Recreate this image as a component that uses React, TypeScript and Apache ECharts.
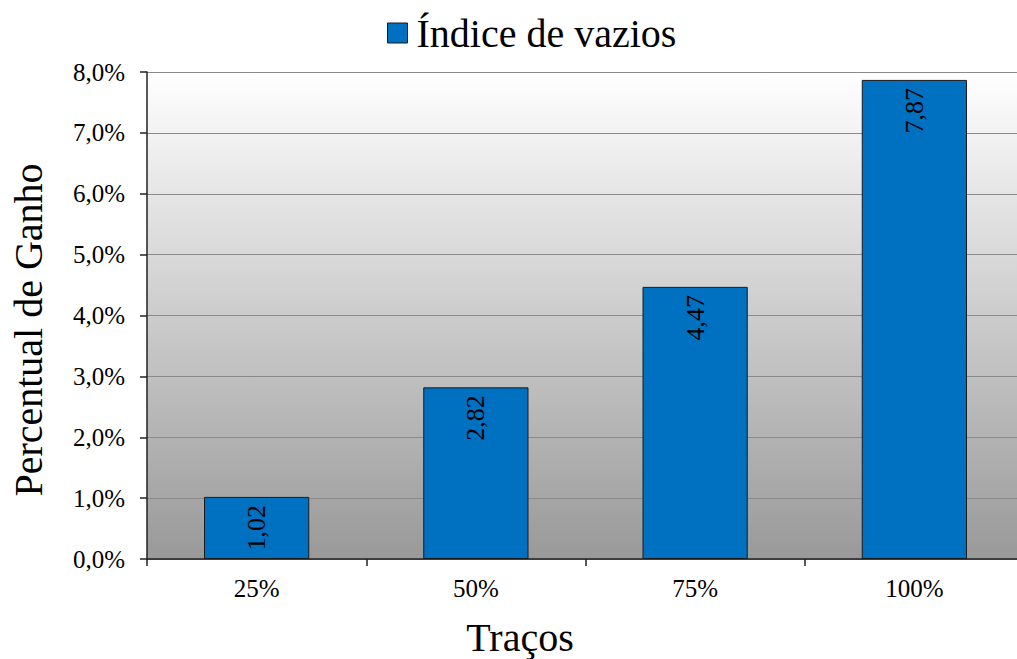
import React, { useEffect, useRef } from "react";
import * as echarts from "echarts";

const categories = ["25%", "50%", "75%", "100%"];
const values = [1.02, 2.82, 4.47, 7.87];
const seriesName = "Índice de vazios";
const yTitle = "Percentual de Ganho";
const xTitle = "Traços";

const FONT = "Liberation Serif";

export default function App() {
  const ref = useRef<HTMLDivElement>(null);
  useEffect(() => {
    if (!ref.current) return;
    const chart = echarts.init(ref.current, undefined, { renderer: "svg" });
    chart.setOption({
      animation: false,
      backgroundColor: "#ffffff",
      textStyle: { fontFamily: FONT },
      legend: {
        left: 382,
        top: 8,
        itemWidth: 20,
        itemHeight: 20,
        icon: "rect",
        textStyle: { fontFamily: FONT, fontSize: 40, color: "#000", padding: [0, 0, 0, 4] },
        data: [{ name: seriesName, itemStyle: { color: "#0070C0", borderColor: "#1a1a1a", borderWidth: 1 } }],
      },
      grid: {
        show: true,
        left: 147,
        top: 72,
        width: 877,
        bottom: 100,
        outerBoundsMode: "none",
        containLabel: false,
        borderWidth: 0,
        backgroundColor: new echarts.graphic.LinearGradient(0, 0, 0, 1, [
          { offset: 0, color: "#ffffff" },
          { offset: 1, color: "#999999" },
        ]),
      },
      xAxis: {
        type: "category",
        data: categories,
        boundaryGap: true,
        axisLine: { show: true, lineStyle: { color: "#222", width: 1.5 } },
        axisTick: { show: true, length: 7, lineStyle: { color: "#222", width: 1.5 } },
        axisLabel: { fontFamily: FONT, fontSize: 25, color: "#000", margin: 17 },
        splitLine: { show: false },
      },
      yAxis: {
        type: "value",
        min: 0,
        max: 8,
        interval: 1,
        axisLine: { show: true, lineStyle: { color: "#222", width: 1.5 } },
        axisTick: { show: true, length: 7, lineStyle: { color: "#222", width: 1.5 } },
        axisLabel: {
          fontFamily: FONT,
          fontSize: 25,
          color: "#000",
          margin: 22,
          formatter: (v: number) => v.toFixed(1).replace(".", ",") + "%",
        },
        splitLine: { show: true, lineStyle: { color: "#8a8a8a", width: 1 } },
      },
      series: [
        {
          name: seriesName,
          type: "bar",
          data: values,
          barWidth: "48%",
          itemStyle: { color: "#0070C0", borderColor: "#1a1a1a", borderWidth: 1 },
          label: {
            show: true,
            position: "insideTop",
            distance: 8,
            rotate: 90,
            align: "right",
            verticalAlign: "middle",
            fontFamily: FONT,
            fontSize: 26,
            color: "#000",
            formatter: (p: any) => p.value.toFixed(2).replace(".", ","),
          },
        },
      ],
      graphic: [
        {
          type: "text",
          x: 28,
          y: 330,
          rotation: Math.PI / 2,
          style: { text: yTitle, font: `40px "${FONT}"`, fill: "#000", align: "center", verticalAlign: "middle" },
        },
        {
          type: "text",
          x: 520,
          y: 637,
          style: { text: xTitle, font: `40px "${FONT}"`, fill: "#000", align: "center", verticalAlign: "middle" },
        },
      ],
    });
    return () => chart.dispose();
  }, []);
  return <div ref={ref} style={{ position: "fixed", left: 0, top: 0, width: 1017, height: 659 }} />;
}
